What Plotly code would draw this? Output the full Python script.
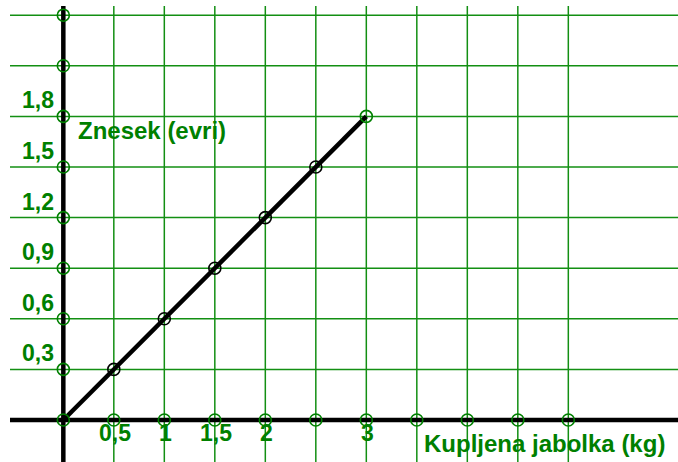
import plotly.graph_objects as go

# ---- data ----
kg = [0, 0.5, 1, 1.5, 2, 2.5, 3]
evri = [0, 0.3, 0.6, 0.9, 1.2, 1.5, 1.8]
x_tick_vals = [0.5, 1, 1.5, 2, 3]
x_tick_text = ["0,5", "1", "1,5", "2", "3"]
y_tick_vals = [0.3, 0.6, 0.9, 1.2, 1.5, 1.8]
y_tick_text = ["0,3", "0,6", "0,9", "1,2", "1,5", "1,8"]
x_grid = [0, 0.5, 1, 1.5, 2, 2.5, 3, 3.5, 4, 4.5, 5]
y_grid = [0, 0.3, 0.6, 0.9, 1.2, 1.5, 1.8, 2.1, 2.4]
x_title = "Kupljena jabolka (kg)"
y_title = "Znesek (evri)"

# ---- layout geometry (full window, body margin removed) ----
W, H = 678, 462
X_RANGE = [-0.627, 6.086]
Y_RANGE = [-0.249, 2.49]
X_LEFT_END = -0.528   # where horizontal lines start
Y_TOP_END = 2.454     # where vertical lines start
GREEN = "#008000"
GRID_GREEN = "#138f13"
FONT = "Liberation Sans, Arial, sans-serif"

fig = go.Figure()

# horizontal grid lines
hx, hy = [], []
for y in y_grid:
    hx += [X_LEFT_END, X_RANGE[1], None]
    hy += [y, y, None]
fig.add_trace(go.Scatter(x=hx, y=hy, mode="lines",
                         line=dict(color=GRID_GREEN, width=1.5),
                         hoverinfo="skip", showlegend=False))
# vertical grid lines
vx, vy = [], []
for x in x_grid:
    vx += [x, x, None]
    vy += [Y_TOP_END, Y_RANGE[0], None]
fig.add_trace(go.Scatter(x=vx, y=vy, mode="lines",
                         line=dict(color=GRID_GREEN, width=1.5),
                         hoverinfo="skip", showlegend=False))

# axes (black)
fig.add_trace(go.Scatter(x=[X_LEFT_END, X_RANGE[1], None, 0, 0],
                         y=[0, 0, None, Y_TOP_END, Y_RANGE[0]],
                         mode="lines", line=dict(color="black", width=4.5),
                         hoverinfo="skip", showlegend=False))

# data line
fig.add_trace(go.Scatter(x=kg, y=evri, mode="lines",
                         line=dict(color="black", width=4.5),
                         showlegend=False))
# black point circles (interior points)
fig.add_trace(go.Scatter(x=kg[1:-1], y=evri[1:-1], mode="markers",
                         marker=dict(symbol="circle-open", size=12,
                                     color="black", line=dict(width=1.6)),
                         showlegend=False))

# green circles on axes
fig.add_trace(go.Scatter(x=[0] * len(y_grid), y=y_grid, mode="markers",
                         marker=dict(symbol="circle-open", size=12,
                                     color=GREEN, line=dict(width=1.6)),
                         hoverinfo="skip", showlegend=False))
fig.add_trace(go.Scatter(x=x_grid[1:], y=[0] * (len(x_grid) - 1), mode="markers",
                         marker=dict(symbol="circle-open", size=12,
                                     color=GREEN, line=dict(width=1.6)),
                         hoverinfo="skip", showlegend=False))
# green circle at last data point
fig.add_trace(go.Scatter(x=[kg[-1]], y=[evri[-1]], mode="markers",
                         marker=dict(symbol="circle-open", size=12,
                                     color=GREEN, line=dict(width=1.6)),
                         showlegend=False))

annotations = []
for v, t in zip(y_tick_vals, y_tick_text):
    annotations.append(dict(x=0, y=v, xref="x", yref="y", text="<b>" + t + "</b>",
                            showarrow=False, xanchor="right", yanchor="middle",
                            xshift=-7, yshift=16,
                            font=dict(family=FONT, size=23, color=GREEN)))
for v, t in zip(x_tick_vals, x_tick_text):
    annotations.append(dict(x=v, y=0, xref="x", yref="y", text="<b>" + t + "</b>",
                            showarrow=False, xanchor="center", yanchor="middle",
                            xshift=1, yshift=-13,
                            font=dict(family=FONT, size=23, color=GREEN)))
annotations.append(dict(x=0, y=1.8, xref="x", yref="y", text="<b>" + y_title + "</b>",
                        showarrow=False, xanchor="left", yanchor="middle",
                        xshift=13, yshift=-14,
                        font=dict(family=FONT, size=24, color=GREEN)))
annotations.append(dict(x=3.5, y=0, xref="x", yref="y", text="<b>" + x_title + "</b>",
                        showarrow=False, xanchor="left", yanchor="middle",
                        xshift=5, yshift=-23,
                        font=dict(family=FONT, size=24, color=GREEN)))

fig.update_layout(
    width=W, height=H,
    margin=dict(l=0, r=0, t=0, b=0),
    paper_bgcolor="white", plot_bgcolor="white",
    xaxis=dict(range=X_RANGE, visible=False, fixedrange=True),
    yaxis=dict(range=Y_RANGE, visible=False, fixedrange=True),
    annotations=annotations,
    showlegend=False,
    hovermode=False,
)

fig.write_html(
    "out.html",
    config={"displayModeBar": False, "staticPlot": True},
    post_script="document.body.style.margin='0px';document.body.style.overflow='hidden';",
)
